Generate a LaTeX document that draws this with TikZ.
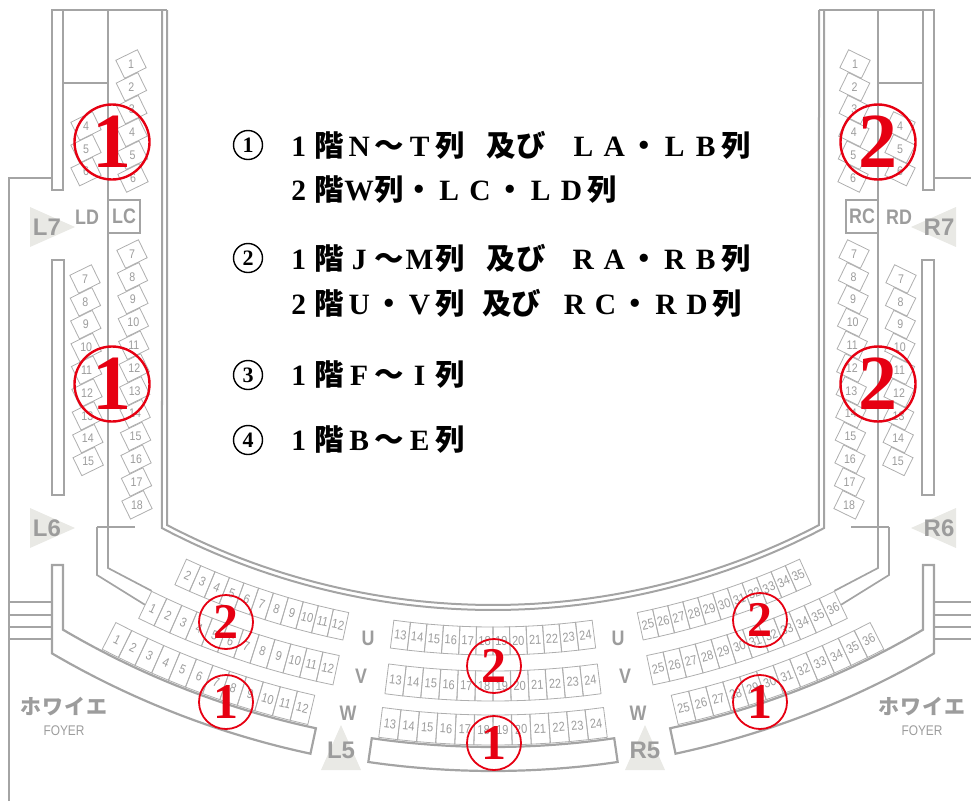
\documentclass[tikz,border=0pt]{standalone}
\usepackage{fontspec}
\setmainfont{Liberation Serif}
\newfontfamily\jpfont{Noto Sans CJK JP}
\newfontfamily\numfont[FakeStretch=0.85]{Liberation Sans}
\newfontfamily\signfont{Liberation Sans}
\newcommand{\jp}[1]{{\jpfont #1}}
\newcommand{\fw}[1]{\makebox[1.05em]{#1}}
\definecolor{wallgray}{HTML}{A4A4A4}
\definecolor{seatgray}{HTML}{AEAEAE}
\definecolor{textgray}{HTML}{9C9C9C}
\definecolor{signfill}{HTML}{E9E9E5}
\definecolor{markred}{HTML}{E60012}

\begin{document}
\begin{tikzpicture}[x=1pt,y=-1pt]
	\tikzstyle{wall}=[draw=wallgray,line width=2.2pt]
	\tikzstyle{divider}=[draw=wallgray,line width=1.7pt]
	\tikzstyle{sideseat}=[draw=seatgray,line width=0.8pt,minimum width=24pt,minimum height=20pt,inner sep=0pt,text=textgray,font=\numfont\fontsize{12.5}{12.5}\selectfont]
	\tikzstyle{rowseat}=[draw=seatgray,line width=0.8pt,inner sep=0pt,text=textgray,font=\numfont\fontsize{13}{13}\selectfont]
	\tikzstyle{signtext}=[text=textgray,font=\signfont\bfseries\fontsize{24}{24}\selectfont]
	\tikzstyle{boxtext}=[text=textgray,font=\numfont\bfseries\fontsize{21}{21}\selectfont]
	\tikzstyle{redmark}=[circle,draw=markred,text=markred,inner sep=0pt]
	\tikzstyle{bigmark}=[redmark,line width=2.4pt,minimum size=75pt,font=\bfseries\fontsize{78}{78}\selectfont]
	\tikzstyle{smallmark}=[redmark,line width=1.8pt,minimum size=54pt,font=\bfseries\fontsize{50}{50}\selectfont]
	\tikzstyle{legendnum}=[circle,draw=black,line width=1.4pt,minimum size=29pt,inner sep=0pt,font=\bfseries\fontsize{22}{22}\selectfont]
	\tikzstyle{legendtext}=[anchor=west,inner sep=0pt,font=\bfseries\fontsize{29.5}{31}\selectfont]
	\useasboundingbox (0,0) rectangle (971,801);

	% walls, left
	\draw[wall] (52,10) -- (167,10);
	\draw[wall] (52,10) rectangle (63,190);
	\draw[wall] (9,801) -- (9,178) -- (52,178);
	\draw[wall] (63,83) -- (108,83);
	\draw[wall] (52,260) rectangle (64,495);
	\foreach \y in {602,615,627,639}
		\draw[divider] (9,\y) -- (52,\y);
	% walls, right
	\draw[wall] (819,10) -- (934,10);
	\draw[wall] (923,10) rectangle (934,190);
	\draw[wall] (934,178) -- (971,178);
	\draw[wall] (878,83) -- (923,83);
	\draw[wall] (922,260) rectangle (934,495);
	\foreach \y in {602,615,627,639}
		\draw[divider] (934,\y) -- (971,\y);

	% side balconies
	\foreach \n in {1,...,18}{
		\pgfmathsetmacro\seatx{\n<7 ? 131+0.4*(\n-1) : 132+0.45*(\n-7)}
		\pgfmathsetmacro\seaty{\n<7 ? 64+22.8*(\n-1) : 254+22.8*(\n-7)}
		\node[sideseat,rotate=26] (lc\n) at (\seatx,\seaty) {\rotatebox{-26}{\n}};
		\node[sideseat,rotate=-26] (rc\n) at ({986-\seatx},\seaty) {\rotatebox{26}{\n}};
	}
	\foreach \n in {4,...,15}{
		\pgfmathsetmacro\seatx{\n<7 ? 86 : 85+0.4*(\n-7)}
		\pgfmathsetmacro\seaty{\n<7 ? 126+22.8*(\n-4) : 279+22.8*(\n-7)}
		\node[sideseat,rotate=26] (ld\n) at (\seatx,\seaty) {\rotatebox{-26}{\n}};
		\node[sideseat,rotate=-26] (rd\n) at ({986-\seatx},\seaty) {\rotatebox{26}{\n}};
	}
	\node[draw=wallgray,line width=1.7pt,minimum width=32pt,minimum height=33pt,boxtext] (lcbox) at (124,216.5) {LC};
	\node[boxtext] (ldtext) at (87,217) {LD};
	\node[draw=wallgray,line width=1.7pt,minimum width=32pt,minimum height=33pt,boxtext] (rcbox) at (862,216.5) {RC};
	\node[boxtext] (rdtext) at (899,217) {RD};

	\begin{scope}[shift={(493,-100)}]
		% stage edge
		\draw[divider,line width=2pt] (-331,110) -- plot[domain=27.79:-27.79,samples=60] ({90+\x}:710) -- (331,110);
		\draw[divider,line width=2pt] (-326,110) -- plot[domain=27.54:-27.54,samples=60] ({90+\x}:705) -- (326,110);
		% row U
		\foreach \n in {2,...,12}{
			\pgfmathsetmacro\ang{12.07+1.225*(12-\n)}
			\node[rowseat,minimum width=15.8pt,minimum height=28pt,rotate={-(\ang)}] (u\n) at ({90+(\ang)}:741) {\n};
		}
		\foreach \n in {13,...,24}{
			\pgfmathsetmacro\ang{1.304*(18.5-\n)}
			\node[rowseat,minimum width=16.9pt,minimum height=28pt,rotate={-(\ang)}] (u\n) at ({90+(\ang)}:741) {\n};
		}
		\foreach \n in {25,...,35}{
			\pgfmathsetmacro\ang{-12.07-1.225*(\n-25)}
			\node[rowseat,minimum width=15.8pt,minimum height=28pt,rotate={-(\ang)}] (u\n) at ({90+(\ang)}:741) {\n};
		}
		% row V
		\foreach \n in {1,...,12}{
			\pgfmathsetmacro\ang{12.13+1.229*(12-\n)}
			\node[rowseat,minimum width=16.9pt,minimum height=30pt,rotate={-(\ang)}] (v\n) at ({90+(\ang)}:786) {\n};
		}
		\foreach \n in {13,...,24}{
			\pgfmathsetmacro\ang{1.294*(18.5-\n)}
			\node[rowseat,minimum width=17.75pt,minimum height=30pt,rotate={-(\ang)}] (v\n) at ({90+(\ang)}:786) {\n};
		}
		\foreach \n in {25,...,36}{
			\pgfmathsetmacro\ang{-12.13-1.229*(\n-25)}
			\node[rowseat,minimum width=16.9pt,minimum height=30pt,rotate={-(\ang)}] (v\n) at ({90+(\ang)}:786) {\n};
		}
		% row W
		\foreach \n in {1,...,12}{
			\pgfmathsetmacro\ang{13.27+1.242*(12-\n)}
			\node[rowseat,minimum width=18pt,minimum height=30pt,rotate={-(\ang)}] (w\n) at ({90+(\ang)}:830) {\n};
		}
		\foreach \n in {13,...,24}{
			\pgfmathsetmacro\ang{1.297*(18.5-\n)}
			\node[rowseat,minimum width=18.8pt,minimum height=30pt,rotate={-(\ang)}] (w\n) at ({90+(\ang)}:830) {\n};
		}
		\foreach \n in {25,...,36}{
			\pgfmathsetmacro\ang{-13.27-1.242*(\n-25)}
			\node[rowseat,minimum width=18pt,minimum height=30pt,rotate={-(\ang)}] (w\n) at ({90+(\ang)}:830) {\n};
		}
		% benches
		\draw[wall] (-441,665) -- (-430,665) -- plot[domain=30.51:12.07,samples=40] ({90+\x}:847) -- plot[domain=12.07:30.34,samples=40] ({90+\x}:873) -- cycle;
		\draw[wall] plot[domain=8.23:-8.23,samples=30] ({90+\x}:847) -- plot[domain=-8.23:8.23,samples=30] ({90+\x}:871) -- cycle;
		\draw[wall] (441,665) -- (430,665) -- plot[domain=-30.51:-12.07,samples=40] ({90+\x}:847) -- plot[domain=-12.07:-30.34,samples=40] ({90+\x}:873) -- cycle;
		% balcony fronts
		\draw[divider] (-385,110) -- (-385,668) -- (v1.north west);
		\draw[divider] (-396,627) -- (-396,675) -- (v1.west);
		\draw[divider] (-396,627) -- (-358,627);
		\draw[divider] (385,110) -- (385,668) -- (v36.north east);
		\draw[divider] (396,627) -- (396,675) -- (v36.east);
		\draw[divider] (396,627) -- (358,627);
	\end{scope}

	% door signs
	\fill[signfill] (30,207) -- (75,227) -- (30,247) -- cycle;
	\fill[signfill] (30,508) -- (75,528) -- (30,548) -- cycle;
	\fill[signfill] (956,207) -- (911,227) -- (956,247) -- cycle;
	\fill[signfill] (956,508) -- (911,528) -- (956,548) -- cycle;
	\fill[signfill] (341,725) -- (361,770) -- (321,770) -- cycle;
	\fill[signfill] (645,725) -- (665,770) -- (625,770) -- cycle;
	\node[signtext] (l7) at (47,227) {L7};
	\node[signtext] (l6) at (47,528) {L6};
	\node[signtext] (r7) at (939,227) {R7};
	\node[signtext] (r6) at (939,528) {R6};
	\node[signtext] (l5) at (341,750) {L5};
	\node[signtext] (r5) at (645,750) {R5};
	% row names
	\node[boxtext] (ul) at (368,638) {U};
	\node[boxtext] (vl) at (361,676) {V};
	\node[boxtext] (wl) at (348,713) {W};
	\node[boxtext] (ur) at (618,638) {U};
	\node[boxtext] (vr) at (625,676) {V};
	\node[boxtext] (wr) at (638,713) {W};
	% foyer
	\node[text=textgray,font=\jpfont\bfseries\fontsize{21}{21}\selectfont] (foyl) at (64,707) {ホ\hspace{1pt}ワ\hspace{1pt}イ\hspace{1pt}エ};
	\node[text=textgray,font=\numfont\fontsize{14}{14}\selectfont] (foyle) at (64,731) {FOYER};
	\node[text=textgray,font=\jpfont\bfseries\fontsize{21}{21}\selectfont] (foyr) at (922,707) {ホ\hspace{1pt}ワ\hspace{1pt}イ\hspace{1pt}エ};
	\node[text=textgray,font=\numfont\fontsize{14}{14}\selectfont] (foyre) at (922,731) {FOYER};

	% red marks
	\node[bigmark] (m1) at (112,142) {1};
	\node[bigmark] (m2) at (112,384) {1};
	\node[bigmark] (m3) at (878,142) {2};
	\node[bigmark] (m4) at (878,384) {2};
	\node[smallmark] (m5) at (226,622) {2};
	\node[smallmark] (m6) at (226,702) {1};
	\node[smallmark] (m7) at (494,666) {2};
	\node[smallmark] (m8) at (494,743) {1};
	\node[smallmark] (m9) at (760,620) {2};
	\node[smallmark] (m10) at (760,702) {1};

	% legend
	\node[legendnum] (k1) at (248,145) {1};
	\node[legendnum] (k2) at (248,258) {2};
	\node[legendnum] (k3) at (248,375) {3};
	\node[legendnum] (k4) at (248,440) {4};
	\node[legendtext] (t1) at (283,145) {\fw{1}\jp{階}\fw{N}\jp{～}\fw{T}\jp{列}\hspace{0.75em}\jp{及び}\hspace{0.75em}\fw{L}\fw{A}\jp{・}\fw{L}\fw{B}\jp{列}};
	\node[legendtext] (t2) at (283,190) {\fw{2}\jp{階}\fw{W}\jp{列・}\fw{L}\fw{C}\jp{・}\fw{L}\fw{D}\jp{列}};
	\node[legendtext] (t3) at (283,258) {\fw{1}\jp{階}\fw{J}\jp{～}\fw{M}\jp{列}\hspace{0.75em}\jp{及び}\hspace{0.75em}\fw{R}\fw{A}\jp{・}\fw{R}\fw{B}\jp{列}};
	\node[legendtext] (t4) at (283,303) {\fw{2}\jp{階}\fw{U}\jp{・}\fw{V}\jp{列}\hspace{0.6em}\jp{及び}\hspace{0.6em}\fw{R}\fw{C}\jp{・}\fw{R}\fw{D}\jp{列}};
	\node[legendtext] (t5) at (283,375) {\fw{1}\jp{階}\fw{F}\jp{～}\fw{I}\jp{列}};
	\node[legendtext] (t6) at (283,440) {\fw{1}\jp{階}\fw{B}\jp{～}\fw{E}\jp{列}};
\end{tikzpicture}
\end{document}
